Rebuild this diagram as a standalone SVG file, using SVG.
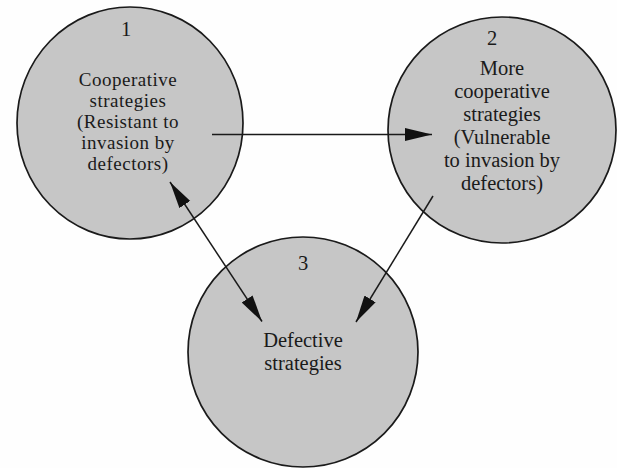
<svg xmlns="http://www.w3.org/2000/svg" width="617" height="468" viewBox="0 0 617 468">
<defs>
<style>
.node{fill:#c6c6c6;stroke:#1a1a1a;stroke-width:1.7}
.t{font-family:"Liberation Serif","Times New Roman",serif;font-size:20.5px;fill:#1a1a1a;text-anchor:middle}
.s{font-size:19px;letter-spacing:0.5px}
.edge{stroke:#1a1a1a;stroke-width:1.5;fill:none}
</style>
<marker id="arr" markerUnits="userSpaceOnUse" markerWidth="28" markerHeight="14" refX="27" refY="6.5" orient="auto-start-reverse">
<path d="M0,0 L27,6.5 L0,13 z" fill="#111"/>
</marker>
</defs>
<rect width="617" height="468" fill="#fefefe"/>
<g id="node1">
<ellipse class="node" cx="130" cy="123" rx="113" ry="116"/>
<text class="t" x="126" y="36">1</text>
<text class="t s" x="128" y="86">Cooperative</text>
<text class="t s" x="128" y="107">strategies</text>
<text class="t s" x="128" y="128">(Resistant to</text>
<text class="t s" x="128" y="149">invasion by</text>
<text class="t s" x="128" y="170">defectors)</text>
</g>
<g id="node2">
<ellipse class="node" cx="502" cy="130" rx="114" ry="113"/>
<text class="t" x="492" y="45">2</text>
<text class="t" x="502" y="75">More</text>
<text class="t" x="502" y="98">cooperative</text>
<text class="t" x="502" y="121">strategies</text>
<text class="t" x="502" y="144">(Vulnerable</text>
<text class="t" x="502" y="167">to invasion by</text>
<text class="t" x="502" y="190">defectors)</text>
</g>
<g id="node3">
<ellipse class="node" cx="303" cy="352" rx="115" ry="115"/>
<text class="t" x="303" y="270">3</text>
<text class="t" x="303" y="347">Defective</text>
<text class="t" x="303" y="370">strategies</text>
</g>
<g id="connectors">
<line class="edge" x1="212" y1="134.5" x2="432" y2="134.5" marker-end="url(#arr)"/>
<line class="edge" x1="170" y1="182" x2="262" y2="321.5" marker-start="url(#arr)" marker-end="url(#arr)"/>
<line class="edge" x1="433" y1="196" x2="356" y2="322" marker-end="url(#arr)"/>
</g>
</svg>
